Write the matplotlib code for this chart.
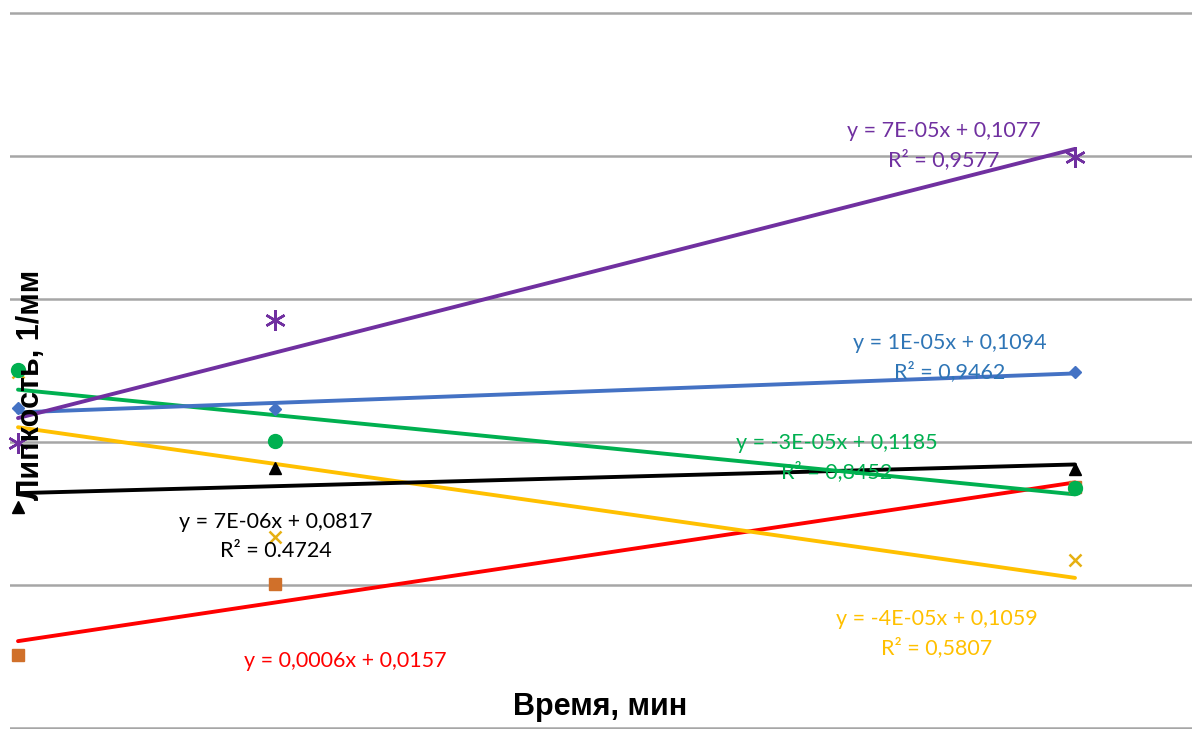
import numpy as np
import matplotlib
matplotlib.use("Agg")
import matplotlib.pyplot as plt

# Measurement times, minutes
time_min = [0, 350, 1440]

# Tack (1/mm) for each sample
purple_vals = [0.0997, 0.1427, 0.1997]
blue_vals = [0.1120, 0.1115, 0.1245]
green_vals = [0.1252, 0.1003, 0.0839]
black_vals = [0.0773, 0.0909, 0.0906]
yellow_vals = [0.1245, 0.0668, 0.0587]
red_vals = [0.0255, 0.0503, 0.0843]

# Trendline equations as printed on the chart
purple_eq = ["y = 7E-05x + 0,1077", "R² = 0,9577"]
blue_eq = ["y = 1E-05x + 0,1094", "R² = 0,9462"]
green_eq = ["y = -3E-05x + 0,1185", "R² = 0,8452"]
black_eq = ["y = 7E-06x + 0,0817", "R² = 0.4724"]
yellow_eq = ["y = -4E-05x + 0,1059", "R² = 0,5807"]
red_eq = ["y = 0,0006x + 0,0157"]

W, H = 1192, 729
fig = plt.figure(figsize=(W / 100, H / 100), dpi=100)
ax = fig.add_axes([10 / W, 0, 1182 / W, 1])

px_per_min = 1057 / 1440
ax.set_xlim(-8 / px_per_min, 1174 / px_per_min)
ax.set_ylim((728 - 729) / 2860, 728 / 2860)

ax.set_yticks(np.arange(0, 0.26, 0.05))
ax.set_xticks([])
ax.tick_params(left=False, labelleft=False)
ax.grid(axis="y", color="#A6A6A6", lw=1.8)
ax.set_axisbelow(True)
for s in ax.spines.values():
    s.set_visible(False)

t = np.array(time_min, dtype=float)
series = [
    # values, line color, marker, marker color, marker size, marker edge width
    (red_vals, "#FF0000", "s", "#D0702A", 8, 0),
    (yellow_vals, "#FFC000", "x", "#E6B012", 9, 1.8),
    (black_vals, "#000000", "^", "#000000", 9, 0),
    (green_vals, "#00B050", "o", "#00B050", 10, 0),
    (blue_vals, "#4472C4", "D", "#4472C4", 6, 0),
    (purple_vals, "#7030A0", (6, 2, 0), "#7030A0", 15, 1.8),
]
for vals, lc, mk, mc, ms, mew in series:
    y = np.array(vals)
    k, b = np.polyfit(t, y, 1)
    ax.plot([t[0], t[-1]], [b, k * t[-1] + b], color=lc, lw=2.8,
            solid_capstyle="round", zorder=3, clip_on=False)
    if mew:
        ax.plot(t, y, ls="none", marker=mk, ms=ms, mec=mc, mew=mew,
                zorder=4, clip_on=False)
    else:
        ax.plot(t, y, ls="none", marker=mk, ms=ms, mfc=mc, mec=mc,
                zorder=4, clip_on=False)

lab_font = dict(family=["Lato", "DejaVu Sans"], fontsize=15.5, ha="center", va="center")


def eq_text(lines, cx, cy, color, dy=29):
    for i, s in enumerate(lines):
        fig.text(cx / W, 1 - (cy + i * dy) / H, s, color=color, **lab_font)


eq_text(purple_eq, 944, 131, "#7030A0")
eq_text(blue_eq, 950, 343, "#2E75B6")
eq_text(green_eq, 837, 443, "#00B050")
eq_text(black_eq, 276, 522, "#000000")
eq_text(yellow_eq, 937, 619, "#FFC000")
eq_text(red_eq, 345, 661, "#FF0000")

axis_font = dict(family=["Liberation Sans", "DejaVu Sans"], fontsize=22, fontweight="bold")
fig.text(600 / W, 1 - 707 / H, "Время, мин", ha="center", va="center", **axis_font)
fig.text(31 / W, 1 - 385 / H, "Липкость, 1/мм", ha="center", va="center",
         rotation=90, **axis_font)

fig.savefig("out.png", dpi=100)
